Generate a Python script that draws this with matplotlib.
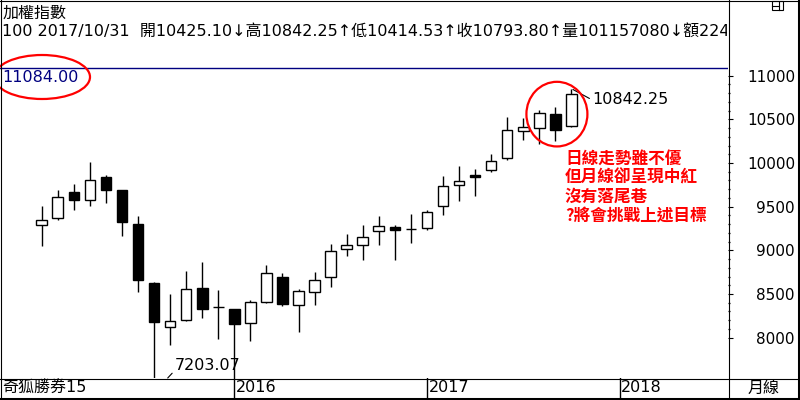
import numpy as np
import matplotlib
matplotlib.use("Agg")
import matplotlib.pyplot as plt
from matplotlib.patches import Ellipse, Rectangle
from matplotlib.lines import Line2D
from matplotlib.ticker import FixedLocator

plt.rcParams['font.family'] = ['DejaVu Sans', 'Noto Sans CJK TC']

# 加權指數 月線 2015/01 .. 2017/10
months = ["2015/01", "2015/02", "2015/03", "2015/04", "2015/05", "2015/06",
          "2015/07", "2015/08", "2015/09", "2015/10", "2015/11", "2015/12",
          "2016/01", "2016/02", "2016/03", "2016/04", "2016/05", "2016/06",
          "2016/07", "2016/08", "2016/09", "2016/10", "2016/11", "2016/12",
          "2017/01", "2017/02", "2017/03", "2017/04", "2017/05", "2017/06",
          "2017/07", "2017/08", "2017/09", "2017/10"]
opens = [9287, 9372, 9665, 9573, 9845, 9688, 9307, 8632, 8125, 8201, 8571, 8352,
         8323, 8171, 8411, 8697, 8372, 8521, 8693, 9017, 9059, 9219, 9269, 9246,
         9253, 9505, 9745, 9864, 9925, 10054, 10363, 10402, 10565, 10425.10]
highs = [9513, 9696, 9764, 10008, 9867, 9690, 9398, 8640, 8495, 8761, 8869, 8544,
         8330, 8430, 8838, 8743, 8560, 8754, 9078, 9192, 9295, 9398, 9295, 9421,
         9467, 9856, 9970, 9936, 10108, 10527, 10516, 10611, 10642, 10842.25]
lows = [9047, 9353, 9467, 9505, 9544, 9170, 8521, 7203.07, 7915, 8189, 8228, 7980,
        7540, 7960, 8392, 8361, 8060, 8380, 8578, 8933, 8887, 9067, 8884, 9086,
        9230, 9410, 9562, 9619, 9894, 10031, 10268, 10222, 10248, 10414.53]
closes = [9353, 9612, 9581, 9810, 9696, 9322, 8666, 8182, 8186, 8552, 8323, 8356,
          8155, 8411, 8743, 8388, 8532, 8666, 8987, 9067, 9155, 9276, 9238, 9248,
          9441, 9734, 9799, 9845, 10028, 10382, 10413, 10573, 10374, 10793.80]

ref_level = 11084.00
yticks = [8000, 8500, 9000, 9500, 10000, 10500, 11000]
header1 = "加權指數"
header2 = ("100 2017/10/31  開10425.10↓高10842.25↑低10414.53↑收10793.80↑"
           "量101157080↓額2243.56億")
comment = ["日線走勢雖不優", "但月線卻呈現中紅", "沒有落尾巷", "?將會挑戰上述目標"]

W, H = 800, 400
fig = plt.figure(figsize=(8, 4), dpi=100)


def fx(px):
    return px / W


def fy(py):
    return 1 - py / H


x = np.arange(len(months))
o = np.array(opens)
h = np.array(highs)
l = np.array(lows)
c = np.array(closes)

# --- main candle panel ---
ax = fig.add_axes([0, fy(378), fx(728), 378 / H])
ax.set_xlim(-2.6, 42.76)
ax.set_ylim(7538.5, 11866.8)
for s in ax.spines.values():
    s.set_visible(False)

ax.vlines(x, l, h, color='black', lw=1.0, zorder=2)
up = c >= o
body_lo = np.minimum(o, c)
body_h = np.abs(c - o)
ax.bar(x[up], body_h[up], bottom=body_lo[up], width=0.66, color='white',
       edgecolor='black', linewidth=1.0, zorder=3)
ax.bar(x[~up], body_h[~up], bottom=body_lo[~up], width=0.66, color='black',
       edgecolor='black', linewidth=1.0, zorder=3)

ax.axhline(ref_level, color='#000080', lw=1.0, zorder=1)
ax.annotate(f"{ref_level:.2f}", xy=(0, ref_level), xycoords=('axes fraction', 'data'),
            xytext=(1.5, -1.5), textcoords='offset points', va='top', ha='left',
            color='#000080', fontsize=11.5)

# right price scale
ax.set_xticks([])
ax.yaxis.tick_right()
ax.set_yticks(yticks)
ax.yaxis.set_minor_locator(FixedLocator([v for v in range(8100, 11000, 100) if v % 500]))
ax.tick_params(axis='y', which='major', direction='out', length=3.6, width=0.8,
               pad=44.6, labelsize=11)
ax.tick_params(axis='y', which='minor', direction='out', length=1.2, width=0.9)
plt.setp(ax.get_yticklabels(), ha='right')

# high / low labels
last = len(x) - 1
ax.annotate(f"{highs[last]:.2f}", xy=(last + 0.1, highs[last]), xytext=(34.3, 10722),
            textcoords='data', va='center', ha='left', fontsize=11.5,
            arrowprops=dict(arrowstyle='-', lw=0.8, color='black',
                            shrinkA=0, shrinkB=0, relpos=(0, 0.5)))
low_i = int(np.argmin(l))
ax.annotate(f"{lows[low_i]:.2f}", xy=(low_i + 0.85, 0),
            xycoords=('data', 'axes fraction'), xytext=(low_i + 1.3, 7679),
            textcoords='data', va='center', ha='left', fontsize=11.5,
            arrowprops=dict(arrowstyle='-', lw=0.8, color='black',
                            shrinkA=0, shrinkB=0, relpos=(0, 0.2)))

# red circle around the last three candles
ax.add_patch(Ellipse((x[-3:].mean() + 0.1, 10560), 3.8, 740, fill=False,
                     edgecolor='red', lw=1.6, zorder=5))

# red ellipse around the reference level label
fig.add_artist(Ellipse((fx(42), fy(77)), 96 / W, 44 / H, transform=fig.transFigure,
                       fill=False, edgecolor='red', lw=1.6))

# comment text
for k, line in enumerate(comment):
    fig.text(fx(565), fy(159 + 19 * k), line, color='red', fontsize=12,
             fontweight='bold', va='center', ha='left',
             family=['Noto Sans CJK TC', 'DejaVu Sans'])

# --- header ---
hax = fig.add_axes([0, fy(45), fx(727), 45 / H])
hax.axis('off')
hax.set_xlim(0, 727)
hax.set_ylim(45, 0)
hax.text(3, 13, header1, va='center', ha='left', fontsize=11.5, clip_on=True)
hax.text(2, 31, header2, va='center', ha='left', fontsize=11.5, clip_on=True)

# --- time strip ---
sax = fig.add_axes([0, fy(398), fx(728), 20 / H])
sax.set_xlim(ax.get_xlim())
sax.set_ylim(0, 1)
sax.axis('off')
year_idx = [i for i, m in enumerate(months) if m.endswith("/01") and i > 0]
year_idx.append(year_idx[-1] + 12)
for i in year_idx:
    sax.axvline(i, color='black', lw=1.0)
    sax.text(i + 0.1, 0.5, str(2015 + i // 12), va='center', ha='left', fontsize=11.5)
sax.text(0.003, 0.5, "奇狐勝券15", transform=sax.transAxes, va='center', ha='left',
         fontsize=11.5)
fig.text(fx(764), fy(388), "月線", va='center', ha='center', fontsize=11.5)

# --- frame lines ---
def fline(xs, ys, lw=0.8):
    fig.add_artist(Line2D([fx(v) for v in xs], [fy(v) for v in ys],
                          transform=fig.transFigure, color='black', lw=lw))

fline([0, 800], [0.5, 0.5])
fline([0.5, 0.5], [0, 400])
fline([0, 800], [378.5, 378.5])
fline([728.5, 728.5], [0, 398])
fline([798.5, 798.5], [0, 400], lw=2.2)
fline([0, 800], [398.5, 398.5], lw=2.2)

# small window icon top right
fig.add_artist(Rectangle((fx(772), fy(9.5)), 11 / W, 8 / H, transform=fig.transFigure,
                         fill=False, edgecolor='black', lw=0.8))
fline([772, 779], [5.5, 5.5])
fline([779, 779], [1.5, 9.5])

fig.savefig("out.png", dpi=100)
